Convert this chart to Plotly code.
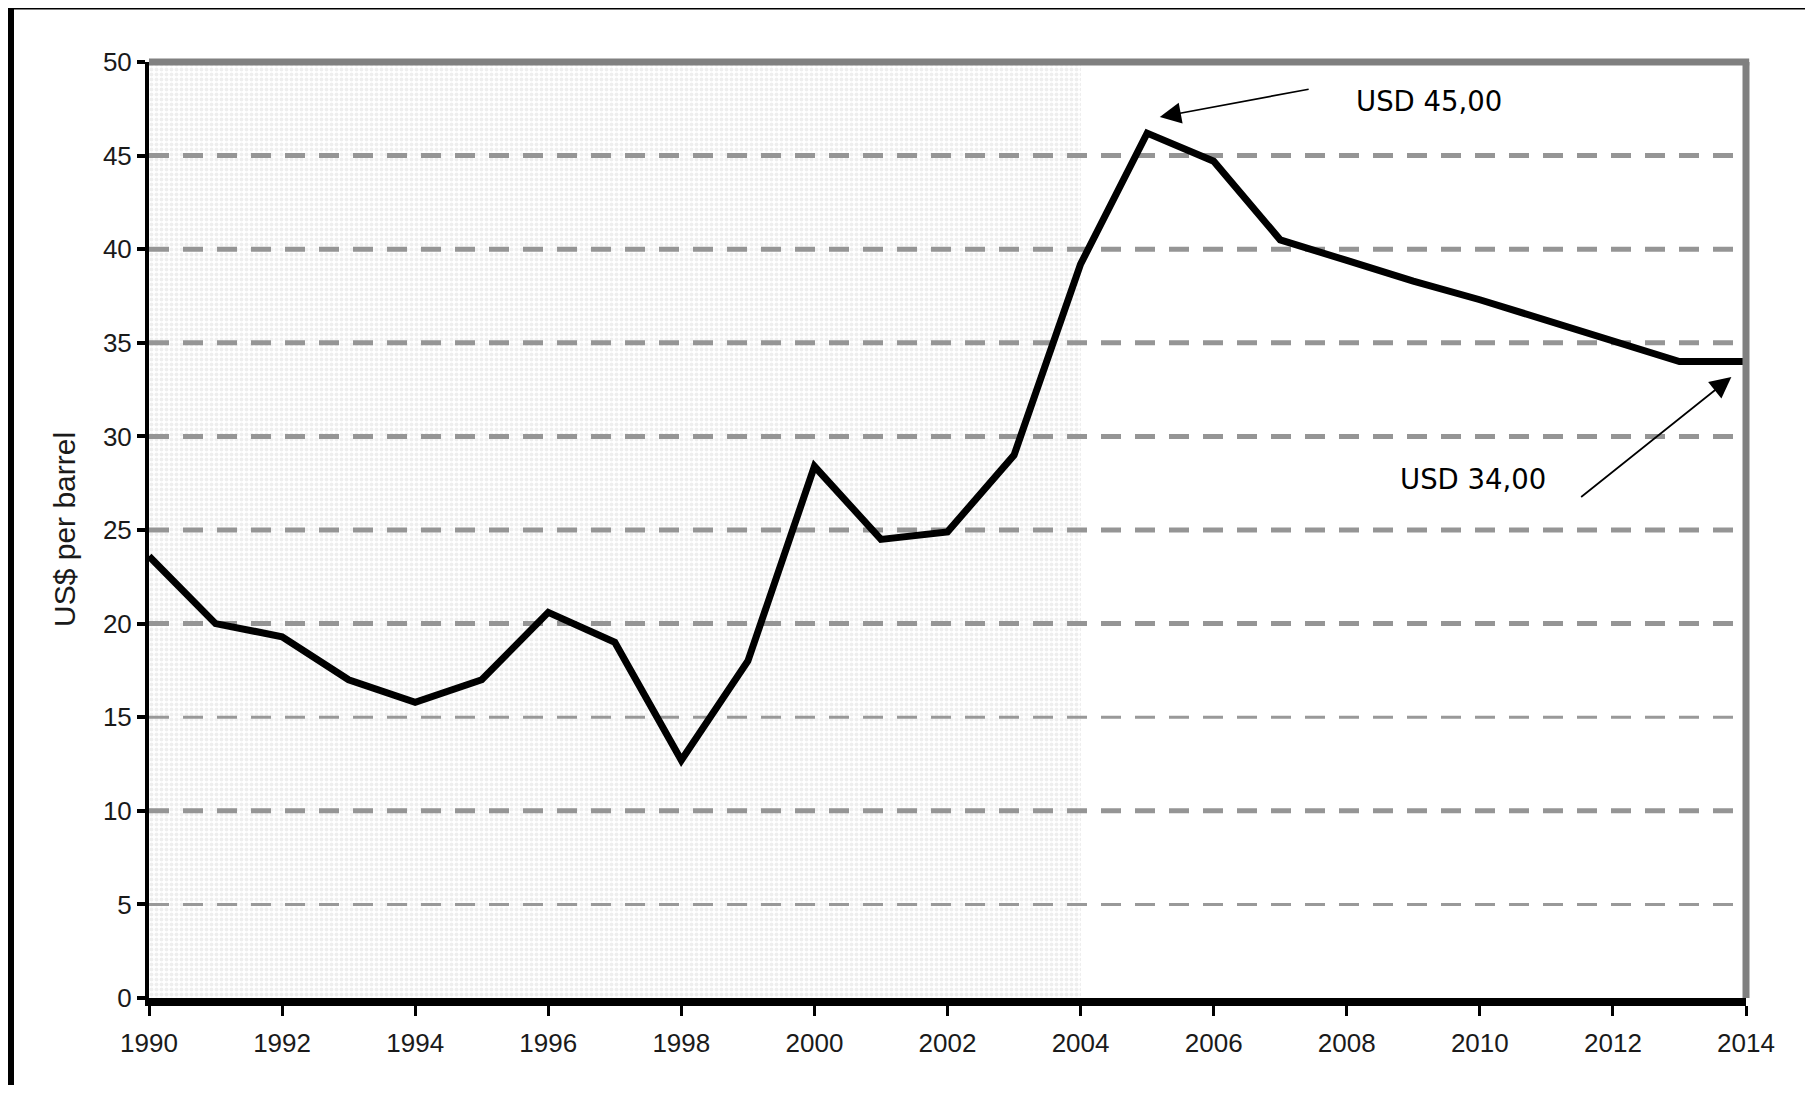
import plotly.graph_objects as go

years = list(range(1990, 2015))
price = [23.6, 20.0, 19.3, 17.0, 15.8, 17.0, 20.6, 19.0, 12.7, 18.0,
         28.4, 24.5, 24.9, 29.0, 39.2, 46.2, 44.7, 40.5, 39.4, 38.3,
         37.3, 36.2, 35.1, 34.0, 34.0]

grid_thick = [10, 20, 25, 30, 35, 40, 45]
grid_thin = [5, 15]
y_ticks = list(range(0, 55, 5))
x_ticks = list(range(1990, 2016, 2))
hist_start, hist_end = 1990, 2004

OFF = 8  # page body margin
W, H = 1805, 1077
L, T = 149 - OFF, 62 - OFF
R = W - (1746 - OFF)
B = H - (998 - OFF)

fig = go.Figure()

# historical shaded (dotted) area
fig.add_trace(go.Bar(
    x=[(hist_start + hist_end) / 2], y=[50], width=[hist_end - hist_start],
    marker=dict(color="white", line_width=0,
                pattern=dict(shape=".", fgcolor="#dedede", bgcolor="white",
                             size=5, solidity=0.5)),
    hoverinfo="skip", showlegend=False))

for v in grid_thick:
    fig.add_trace(go.Scatter(x=[1990, 2014], y=[v, v], mode="lines",
                             line=dict(color="#959595", width=5, dash="20px,14px"),
                             hoverinfo="skip", showlegend=False))
for v in grid_thin:
    fig.add_trace(go.Scatter(x=[1990, 2014], y=[v, v], mode="lines",
                             line=dict(color="#999999", width=3, dash="20px,14px"),
                             hoverinfo="skip", showlegend=False))

fig.add_trace(go.Scatter(x=years, y=price, mode="lines",
                         line=dict(color="black", width=7),
                         showlegend=False, cliponaxis=False))

tick_font = dict(family="Liberation Sans, Arial, sans-serif", size=26, color="#1a1a1a")

fig.update_layout(
    width=W, height=H, autosize=False,
    margin=dict(l=L, r=R, t=T, b=B),
    paper_bgcolor="white", plot_bgcolor="white",
    bargap=0,
    xaxis=dict(range=[1990, 2014], tickvals=x_ticks, ticktext=[str(t) for t in x_ticks],
               showgrid=False, zeroline=False, showline=True, linecolor="black",
               linewidth=8, ticks="outside", ticklen=10, tickwidth=3, tickcolor="black",
               tickfont=tick_font, ticklabelstandoff=5),
    yaxis=dict(range=[0, 50], tickvals=y_ticks, showgrid=False, zeroline=False,
               showline=True, linecolor="black", linewidth=4, ticks="outside",
               ticklen=8, tickwidth=4, tickcolor="black", tickfont=tick_font),
)

# top and right frame (gray)
fig.add_shape(type="line", xref="paper", yref="paper", x0=0, x1=1.002, y0=1, y1=1,
              line=dict(color="#808080", width=7))
fig.add_shape(type="line", xref="paper", yref="paper", x0=1, x1=1, y0=0, y1=1,
              line=dict(color="#808080", width=7))

# outer black frame (page pixel coordinates converted to paper)
def px_x(p):
    return (p - OFF - L) / (W - L - R)

def px_y(p):
    return (H - B - (p - OFF)) / (H - T - B)

frame = [((10.5, 6, 10.5, 1100), 7), ((7, 7.5, 1813, 7.5), 4), ((1811, 6, 1811, 1100), 3)]
for (x0, y0, x1, y1), w in frame:
    fig.add_shape(type="line", xref="paper", yref="paper",
                  x0=px_x(x0), x1=px_x(x1), y0=px_y(y0), y1=px_y(y1),
                  line=dict(color="black", width=w))

ann_font = dict(family="DejaVu Sans, Verdana, sans-serif", size=27.5, color="black")

fig.add_annotation(x=2009.24, y=47.9, xref="x", yref="y", text="USD 45,00",
                   showarrow=False, font=ann_font)
fig.add_annotation(x=2009.9, y=27.7, xref="x", yref="y", text="USD 34,00",
                   showarrow=False, font=ann_font)
fig.add_annotation(x=2005.19, y=47.06, ax=2007.45, ay=48.56, xref="x", yref="y",
                   axref="x", ayref="y", text="", showarrow=True, arrowhead=2,
                   arrowsize=2.5, arrowwidth=1.7, arrowcolor="black")
fig.add_annotation(x=2013.78, y=33.17, ax=2011.5, ay=26.7, xref="x", yref="y",
                   axref="x", ayref="y", text="", showarrow=True, arrowhead=2,
                   arrowsize=2.5, arrowwidth=1.7, arrowcolor="black")

fig.add_annotation(x=px_x(64), y=0.5, xref="paper", yref="paper", text="US$ per barrel",
                   textangle=-90, showarrow=False, xanchor="center", yanchor="middle",
                   font=dict(family="Liberation Sans, Arial, sans-serif", size=30,
                             color="#1a1a1a"))

fig.write_html("out.html")
